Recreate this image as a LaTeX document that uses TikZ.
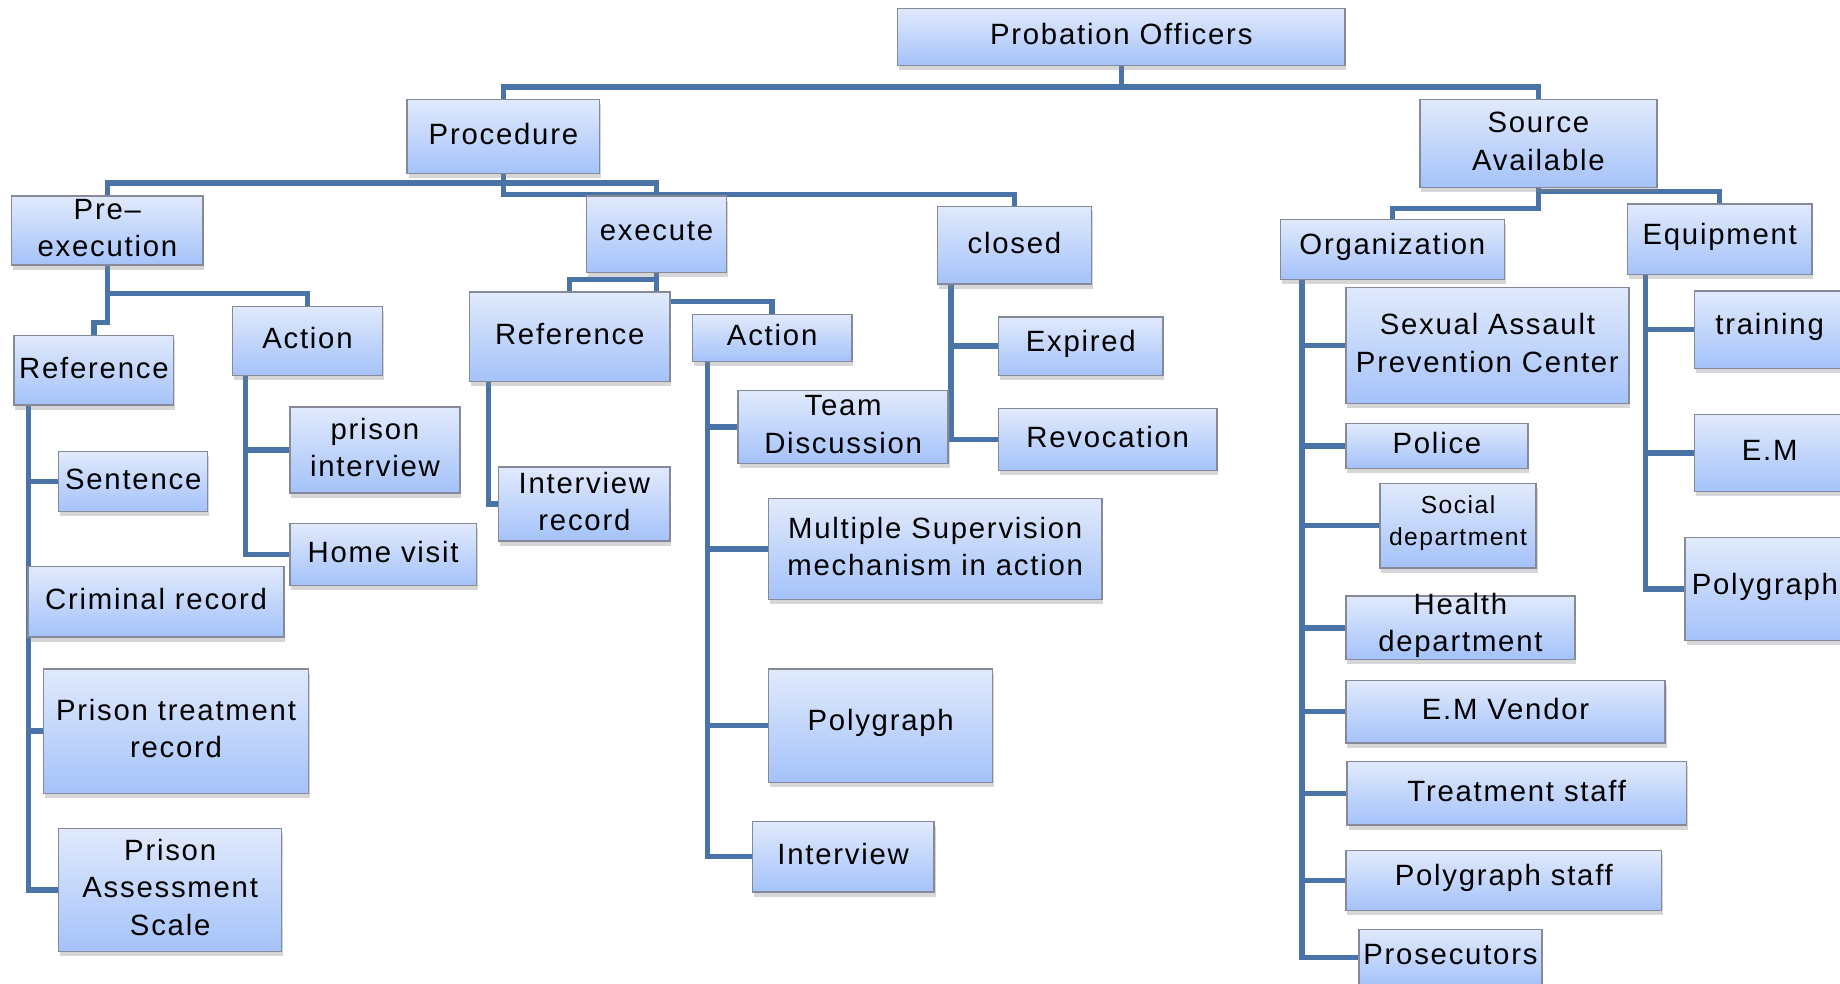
\documentclass[tikz,border=0pt]{standalone}
\usepackage{fontspec}
\setmainfont[LetterSpace=6]{Liberation Sans}
\usetikzlibrary{shadows}
\definecolor{conncol}{HTML}{4A74A8}
\definecolor{boxtop}{HTML}{E1EAFC}
\definecolor{boxbot}{HTML}{A4C2FA}
\definecolor{boxdraw}{HTML}{868A98}
\pgfdeclarelayer{bg}
\pgfsetlayers{bg,main}
\tikzset{
  box/.style={draw=boxdraw, line width=0.6pt, top color=boxtop, bottom color=boxbot,
    inner sep=0pt,
    drop shadow={shadow xshift=0.6pt, shadow yshift=-2pt, opacity=0.32}},
  boxtext/.style={inner sep=0pt, align=center, font=\fontsize{12.5}{16}\selectfont},
  conn/.style={draw=conncol, line width=2.3pt},
}
\newcommand\bx[7][]{\node[box,minimum width={(#5-#3)*0.5pt},minimum height={(#6-#4)*0.5pt}] (#2) at ({(#3+#5)/2},{(#4+#6)/2}) {};
\node[boxtext,#1] (#2-t) at ([yshift=1.1pt]#2.center) {#7};}
\begin{document}
\begin{tikzpicture}[x=0.5pt,y=-0.5pt]
\useasboundingbox (0,0) rectangle (1568,838.5);
\bx{po}{765}{7}{1146}{56}{Probation Officers}
\bx{proc}{347}{85}{511}{148}{Procedure}
\bx{src}{1210}{85}{1412}{160}{Source\\Available}
\bx{pre}{10}{167}{173}{226}{Pre–\\execution}
\bx{exe}{500}{167}{619}{232}{execute}
\bx{closed}{799}{176}{930}{242}{closed}
\bx{org}{1091}{187}{1282}{238}{Organization}
\bx{equip}{1387}{174}{1544}{234}{Equipment}
\bx{ref1}{12}{286}{148}{345}{Reference}
\bx{act1}{198}{261}{326}{320}{Action}
\bx{ref2}{400}{249}{571}{325}{Reference}
\bx{act2}{590}{268}{726}{308}{Action}
\bx{team}{629}{333}{808}{395}{Team\\Discussion}
\bx{irec}{425}{398}{571}{461}{Interview\\record}
\bx{pint}{247}{347}{392}{420}{prison\\interview}
\bx{sent}{50}{385}{177}{436}{Sentence}
\bx{hv}{247}{446}{406}{499}{Home visit}
\bx{crim}{24}{483}{242}{543}{Criminal record}
\bx{ptr}{37}{570}{263}{676}{Prison treatment\\record}
\bx{pas}{50}{706}{240}{811}{Prison\\Assessment\\Scale}
\bx{msm}{655}{425}{939}{511}{Multiple Supervision\\mechanism in action}
\bx{polyb}{655}{570}{846}{667}{Polygraph}
\bx{intv}{641}{700}{796}{760}{Interview}
\bx{expd}{851}{270}{991}{320}{Expired}
\bx{rev}{851}{348}{1037}{401}{Revocation}
\bx{sapc}{1147}{245}{1388}{344}{Sexual Assault\\Prevention Center}
\bx{pol}{1147}{361}{1302}{399}{Police}
\bx[font=\fontsize{10.5}{13.5}\selectfont]{soc}{1176}{412}{1309}{484}{Social\\department}
\bx{hea}{1147}{508}{1342}{562}{Health\\department}
\bx{emv}{1147}{580}{1419}{633}{E.M Vendor}
\bx{trs}{1148}{649}{1437}{703}{Treatment staff}
\bx{pgs}{1147}{725}{1416}{776}{Polygraph staff}
\bx{pros}{1158}{792}{1314}{840}{Prosecutors}
\bx{trn}{1444}{248}{1572}{314}{training}
\bx{em}{1444}{353}{1572}{419}{E.M}
\bx{polyc}{1436}{458}{1572}{546}{Polygraph}
\begin{pgfonlayer}{bg}
% level 1
\draw[conn] (po.south) -- (po.south |- 0,74);
\draw[conn] (proc.north) -- (proc.north |- 0,74) -| (src.north);
% procedure
\draw[conn] (proc.south) -- (proc.south |- 0,156) -| (pre.north);
\draw[conn] (proc.south |- 0,156) -| (exe.north);
\draw[conn] (proc.south) -- (proc.south |- 0,166) -| (closed.north);
% pre-execution
\draw[conn] (pre.south) -- (pre.south |- 0,250) -| (act1.north);
\draw[conn] (pre.south) -- (pre.south |- 0,275) -| (ref1.north);
\coordinate (s1) at ([xshift=6.5pt]ref1.south west);
\foreach \t in {sent,crim,ptr,pas} \draw[conn] (s1) |- (\t.west);
\coordinate (s2) at ([xshift=6pt]act1.south west);
\foreach \t in {pint,hv} \draw[conn] (s2) |- (\t.west);
% execute
\draw[conn] (exe.south) -- (exe.south |- 0,238) -| (ref2.north);
\draw[conn] (exe.south) -- (exe.south |- 0,257) -| (act2.north);
\coordinate (s3) at ([xshift=8.5pt]ref2.south west);
\draw[conn] (s3) |- (irec.west);
\coordinate (s4) at ([xshift=6.75pt]act2.south west);
\foreach \t in {team,msm,polyb,intv} \draw[conn] (s4) |- (\t.west);
% closed
\coordinate (s5) at ([xshift=6pt]closed.south west);
\foreach \t in {expd,rev} \draw[conn] (s5) |- (\t.west);
% source
\draw[conn] (src.south) -- (src.south |- 0,177.5) -| (org.north);
\draw[conn] (src.south) -- (src.south |- 0,163) -| (equip.north);
\coordinate (s6) at ([xshift=9.5pt]org.south west);
\foreach \t in {sapc,pol,soc,hea,emv,trs,pgs,pros} \draw[conn] (s6) |- (\t.west);
\coordinate (s7) at ([xshift=8pt]equip.south west);
\foreach \t in {trn,em,polyc} \draw[conn] (s7) |- (\t.west);
\end{pgfonlayer}
\end{tikzpicture}
\end{document}
